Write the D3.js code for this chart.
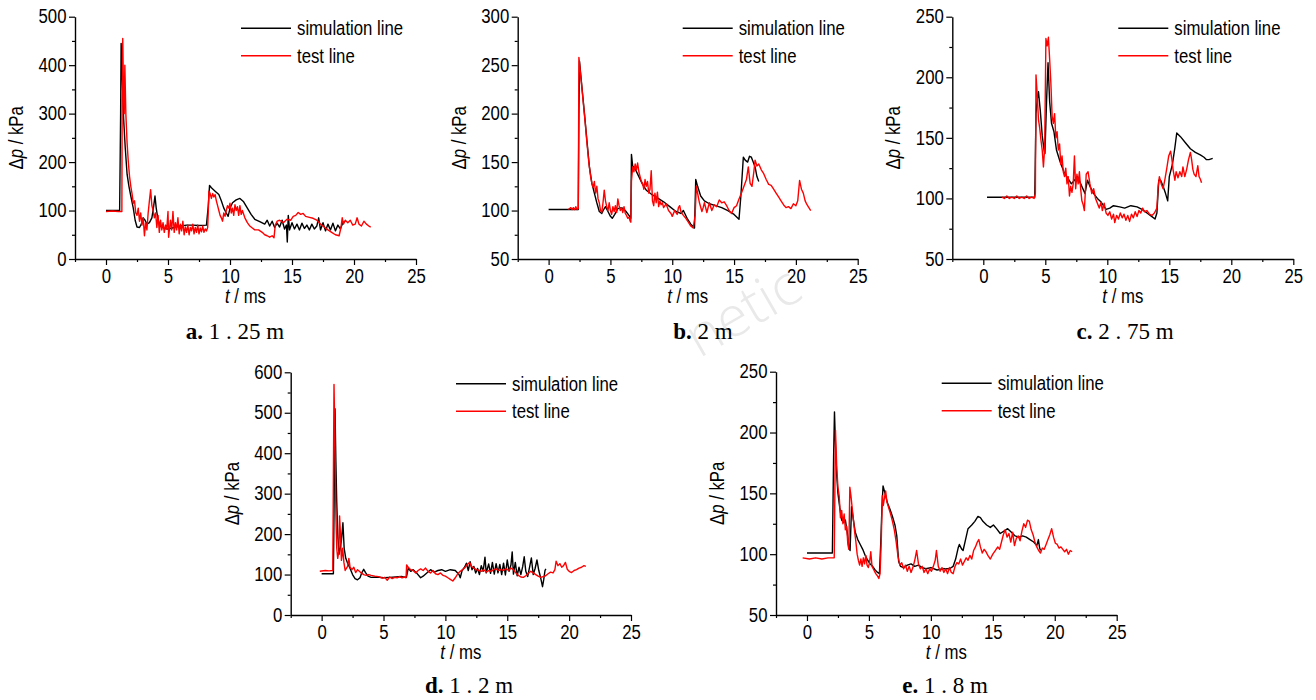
<!DOCTYPE html>
<html>
<head>
<meta charset="utf-8">
<script src="https://cdn.jsdelivr.net/npm/d3@7"></script>
<style>
body { margin: 0; background: #fff; }
text { font-family: "Liberation Sans", Arial, sans-serif; fill: #000; }
.cap { font-family: "Liberation Serif", "Times New Roman", serif; font-size: 23px; white-space: pre; }
/* the source figure uses a slightly condensed sans */
.xax .tick text { transform-box: fill-box; transform-origin: 50% 50%; transform: scaleX(0.86); }
.yax .tick text { transform-box: fill-box; transform-origin: 100% 50%; transform: scaleX(0.86); }
</style>
</head>
<body>
<script>

// shared x axis (t / ms)
var xDomain = [-2.5, 25];
var xTicks = [0, 5, 10, 15, 20, 25];
var xMinor = [-2.5, 2.5, 7.5, 12.5, 17.5, 22.5];

// y axes per panel
var yDomA = [0, 500], yTicksA = [0, 100, 200, 300, 400, 500], yMinorA = [50, 150, 250, 350, 450];
var yDomB = [50, 300], yTicksB = [50, 100, 150, 200, 250, 300], yMinorB = [75, 125, 175, 225, 275];
var yDomC = [50, 250], yTicksC = [50, 100, 150, 200, 250], yMinorC = [75, 125, 175, 225];
var yDomD = [0, 600], yTicksD = [0, 100, 200, 300, 400, 500, 600], yMinorD = [50, 150, 250, 350, 450, 550];
var yDomE = [50, 250], yTicksE = [50, 100, 150, 200, 250], yMinorE = [75, 125, 175, 225];

var legendNames = ["simulation line", "test line"];

// a. 1.25 m   [t ms, dp kPa]
var simA = [[0,100],[1.1,100],[1.18,300],[1.22,445],[1.3,380],[1.42,290],[1.55,230],[1.7,175],[1.85,150],[2.0,130],[2.2,105],[2.35,80],[2.5,66],[2.7,65],[2.85,72],[3.0,85],[3.15,80],[3.3,72],[3.5,75],[3.7,85],[3.85,110],[3.95,130],[4.05,105],[4.2,80],[4.4,68],[4.7,63],[5.0,62],[5.5,65],[6.0,68],[6.5,70],[7.0,70],[7.5,69],[8.1,70],[8.25,110],[8.35,152],[8.5,147],[8.8,140],[9.1,133],[9.3,120],[9.5,105],[9.7,95],[9.85,88],[10.0,105],[10.2,116],[10.5,122],[10.8,125],[11.1,118],[11.4,105],[11.7,92],[12.0,82],[12.4,77],[12.8,72],[13.0,80],[13.2,68],[13.4,78],[13.6,65],[13.8,74],[14.0,66],[14.2,80],[14.4,62],[14.55,70],[14.62,35],[14.7,90],[14.8,60],[15.0,75],[15.2,62],[15.4,72],[15.6,60],[15.8,74],[16.0,63],[16.2,70],[16.4,60],[16.6,72],[16.8,62],[17.0,68],[17.15,85],[17.3,60],[17.5,75],[17.7,58],[17.9,72],[18.1,60],[18.3,74],[18.5,58],[18.7,70],[18.9,62],[19.1,75],[19.3,78]];
var testA = [[0,98],[0.5,99],[1.0,98],[1.28,98],[1.3,300],[1.35,455],[1.42,330],[1.47,300],[1.52,400],[1.6,300],[1.7,240],[1.8,200],[1.9,170],[2.0,150],[2.1,135],[2.2,115],[2.3,120],[2.4,95],[2.5,90],[2.6,105],[2.7,78],[2.8,95],[2.9,70],[3.0,85],[3.1,48],[3.2,75],[3.3,60],[3.4,95],[3.5,120],[3.6,143],[3.7,110],[3.8,100],[3.9,85],[4.0,95],[4.1,65],[4.2,90],[4.3,55],[4.4,80],[4.5,60],[4.6,75],[4.7,55],[4.8,70],[4.9,62],[5.0,98],[5.05,45],[5.2,80],[5.3,60],[5.4,98],[5.5,55],[5.6,75],[5.7,60],[5.8,85],[5.9,52],[6.0,72],[6.1,58],[6.2,78],[6.3,50],[6.4,66],[6.5,55],[6.6,70],[6.7,50],[6.8,65],[6.9,58],[7.0,72],[7.1,52],[7.2,65],[7.3,55],[7.4,70],[7.5,52],[7.6,64],[7.7,56],[7.8,68],[7.9,55],[8.0,62],[8.1,58],[8.2,65],[8.25,100],[8.3,140],[8.4,135],[8.5,125],[8.6,135],[8.7,128],[8.8,133],[8.9,120],[9.0,110],[9.1,100],[9.2,90],[9.3,85],[9.4,78],[9.5,95],[9.6,88],[9.7,100],[9.8,110],[9.9,105],[10.0,115],[10.1,95],[10.2,105],[10.3,90],[10.4,112],[10.5,100],[10.6,108],[10.7,90],[10.8,110],[10.9,92],[11.0,100],[11.2,85],[11.4,75],[11.6,68],[11.8,64],[12.0,60],[12.3,60],[12.6,55],[12.8,50],[13.0,48],[13.2,45],[13.4,48],[13.55,44],[13.65,70],[13.8,78],[14.0,80],[14.3,75],[14.6,82],[14.9,80],[15.1,88],[15.3,90],[15.5,96],[15.7,92],[15.9,94],[16.1,88],[16.4,86],[16.7,84],[17.0,80],[17.3,72],[17.6,66],[17.9,60],[18.2,55],[18.5,50],[18.8,48],[18.95,65],[19.05,85],[19.15,72],[19.3,80],[19.5,75],[19.7,80],[19.9,70],[20.1,72],[20.25,85],[20.4,72],[20.6,68],[20.8,78],[21.0,72],[21.2,68],[21.35,66]];

// b. 2 m
var simB = [[0,101],[2.4,101],[2.45,200],[2.5,254],[2.6,240],[2.75,220],[2.9,200],[3.1,172],[3.3,145],[3.5,128],[3.7,118],[3.9,108],[4.1,99],[4.3,97],[4.45,101],[4.6,104],[4.8,99],[5.0,94],[5.15,92],[5.35,96],[5.6,102],[5.9,103],[6.2,100],[6.5,95],[6.65,92],[6.7,158],[6.8,146],[7.0,143],[7.3,135],[7.6,127],[7.9,121],[8.3,117],[8.8,113],[9.3,109],[9.8,104],[10.3,99],[10.7,97],[10.9,100],[11.2,92],[11.5,86],[11.8,82],[11.9,132],[12.05,125],[12.3,115],[12.6,110],[13.0,107],[13.5,105],[14.0,103],[14.5,100],[15.0,96],[15.4,91],[15.55,115],[15.75,155],[15.9,152],[16.1,150],[16.25,156],[16.4,155],[16.55,150],[16.7,145],[16.85,135],[17.0,130]];
var testB = [[1.6,101],[1.8,103],[1.9,101],[2.0,103],[2.1,101],[2.2,104],[2.3,101],[2.4,102],[2.45,258],[2.55,245],[2.65,232],[2.8,212],[2.95,192],[3.1,170],[3.25,150],[3.4,135],[3.5,128],[3.6,124],[3.7,130],[3.8,118],[3.9,125],[4.0,112],[4.1,108],[4.2,100],[4.3,98],[4.4,108],[4.5,121],[4.6,110],[4.7,104],[4.8,100],[4.9,108],[5.0,100],[5.1,96],[5.2,104],[5.3,99],[5.4,105],[5.5,98],[5.6,112],[5.7,105],[5.8,100],[5.9,103],[6.0,98],[6.1,104],[6.2,97],[6.3,95],[6.4,92],[6.5,93],[6.6,89],[6.65,88],[6.7,130],[6.8,145],[6.9,140],[7.0,148],[7.1,142],[7.2,149],[7.3,140],[7.4,135],[7.5,130],[7.6,128],[7.7,122],[7.8,132],[7.9,125],[8.0,130],[8.1,118],[8.2,122],[8.3,141],[8.4,110],[8.5,105],[8.6,118],[8.7,108],[8.8,119],[8.9,104],[9.0,110],[9.1,106],[9.2,108],[9.3,103],[9.5,107],[9.7,100],[9.9,97],[10.0,94],[10.2,100],[10.4,96],[10.5,103],[10.6,105],[10.7,99],[10.9,95],[11.1,92],[11.3,88],[11.5,84],[11.7,82],[11.85,95],[11.95,125],[12.05,118],[12.2,108],[12.4,99],[12.5,103],[12.6,108],[12.8,98],[13.0,108],[13.2,100],[13.4,106],[13.6,104],[13.8,111],[14.0,108],[14.2,109],[14.4,105],[14.6,100],[14.8,97],[15.0,103],[15.2,105],[15.4,112],[15.6,118],[15.8,125],[16.0,132],[16.15,145],[16.3,128],[16.45,125],[16.6,140],[16.7,152],[16.85,146],[17.0,148],[17.2,142],[17.4,138],[17.6,132],[17.8,127],[18.0,126],[18.2,122],[18.4,118],[18.6,114],[18.8,110],[19.0,106],[19.2,103],[19.4,104],[19.6,102],[19.8,107],[20.0,105],[20.15,110],[20.3,131],[20.45,122],[20.6,118],[20.75,110],[20.9,106],[21.05,103],[21.2,100]];

// c. 2.75 m
var simC = [[0.3,101],[4.15,101],[4.25,170],[4.35,182],[4.45,188],[4.6,172],[4.75,152],[4.9,140],[4.97,137],[5.1,180],[5.22,212],[5.35,180],[5.5,162],[5.7,155],[5.9,140],[6.2,130],[6.5,122],[6.8,117],[7.1,112],[7.35,115],[7.6,118],[7.9,111],[8.2,104],[8.4,115],[8.6,110],[8.9,104],[9.2,100],[9.5,97],[9.9,91],[10.2,92],[10.5,94],[11.0,93],[11.4,92],[11.9,94],[12.4,93],[12.8,91],[13.2,88],[13.6,85],[13.85,83],[14.0,88],[14.15,115],[14.3,115],[14.5,110],[14.7,104],[14.87,98],[15.0,118],[15.25,128],[15.45,142],[15.6,154],[15.9,151],[16.3,146],[16.7,141],[17.1,138],[17.5,136],[17.8,134],[18.0,132],[18.2,132],[18.5,133]];
var testC = [[1.5,101],[1.7,100],[1.9,102],[2.1,100],[2.3,101],[2.5,100],[2.7,102],[2.9,100],[3.1,101],[3.3,100],[3.5,102],[3.7,100],[3.9,101],[4.1,100],[4.2,104],[4.25,202],[4.35,185],[4.45,165],[4.55,158],[4.65,148],[4.75,140],[4.85,126],[4.95,142],[5.05,232],[5.15,226],[5.25,233],[5.35,215],[5.45,195],[5.55,168],[5.65,162],[5.75,170],[5.85,150],[5.95,155],[6.05,140],[6.15,145],[6.25,128],[6.35,135],[6.45,122],[6.55,118],[6.65,125],[6.75,112],[6.85,118],[6.95,102],[7.05,110],[7.15,105],[7.25,112],[7.35,135],[7.45,108],[7.55,120],[7.65,112],[7.75,122],[7.85,108],[7.95,98],[8.05,95],[8.15,90],[8.3,120],[8.45,122],[8.6,112],[8.75,104],[8.9,108],[9.05,100],[9.2,96],[9.35,92],[9.5,97],[9.6,90],[9.75,96],[9.9,88],[10.05,86],[10.2,89],[10.35,83],[10.5,87],[10.6,80],[10.75,86],[10.9,83],[11.05,88],[11.2,84],[11.35,87],[11.5,82],[11.65,86],[11.8,81],[11.95,87],[12.1,84],[12.25,89],[12.4,85],[12.55,90],[12.7,88],[12.85,92],[13.0,89],[13.2,90],[13.4,87],[13.6,86],[13.8,88],[14.0,92],[14.1,110],[14.2,118],[14.35,112],[14.5,108],[14.65,116],[14.8,125],[14.95,135],[15.1,139],[15.2,133],[15.3,124],[15.45,115],[15.55,122],[15.7,117],[15.85,122],[16.0,118],[16.1,126],[16.25,118],[16.4,124],[16.55,132],[16.7,138],[16.8,132],[16.9,124],[17.0,120],[17.15,118],[17.3,127],[17.4,118],[17.5,116],[17.6,113]];

// d. 1.2 m
var simD = [[0,102],[0.95,102],[1.0,250],[1.08,510],[1.15,380],[1.22,280],[1.3,200],[1.4,150],[1.5,165],[1.6,185],[1.72,228],[1.82,165],[1.95,140],[2.1,128],[2.3,115],[2.5,100],[2.7,90],[2.9,87],[3.1,92],[3.25,105],[3.4,113],[3.55,105],[3.75,96],[4.0,93],[4.5,94],[5.0,92],[5.5,93],[6.0,94],[6.5,95],[6.85,93],[7.0,116],[7.2,108],[7.4,112],[7.7,103],[8.0,92],[8.2,96],[8.5,104],[8.8,112],[9.1,106],[9.4,110],[9.7,112],[10.0,108],[10.4,112],[10.8,110],[11.1,100],[11.2,92],[11.35,110],[11.55,118],[11.7,128],[11.85,110],[12.0,132],[12.15,112],[12.3,120],[12.45,104],[12.6,115],[12.75,100],[12.9,122],[13.05,108],[13.2,143],[13.3,104],[13.5,126],[13.65,103],[13.8,130],[13.95,101],[14.1,127],[14.25,104],[14.4,125],[14.55,100],[14.7,128],[14.85,99],[15.0,136],[15.15,108],[15.3,124],[15.4,156],[15.5,101],[15.65,130],[15.8,97],[15.95,118],[16.1,100],[16.25,120],[16.37,144],[16.5,108],[16.65,95],[16.8,118],[16.95,141],[17.1,100],[17.25,115],[17.4,136],[17.55,110],[17.7,92],[17.85,70],[17.95,88],[18.05,110],[18.12,114]];
var testD = [[-0.15,108],[0.3,110],[0.6,109],[0.9,110],[0.95,340],[1.0,570],[1.08,420],[1.15,250],[1.22,165],[1.3,140],[1.4,160],[1.45,245],[1.52,200],[1.6,135],[1.7,165],[1.8,130],[1.9,110],[2.0,115],[2.1,120],[2.2,140],[2.3,118],[2.45,112],[2.6,118],[2.75,105],[2.9,112],[3.05,108],[3.2,104],[3.4,100],[3.6,98],[3.8,100],[4.0,98],[4.3,96],[4.6,95],[4.9,91],[5.1,93],[5.3,86],[5.5,94],[5.7,90],[5.9,93],[6.1,92],[6.3,95],[6.5,92],[6.7,94],[6.82,92],[6.87,124],[7.0,118],[7.2,112],[7.4,110],[7.6,104],[7.8,110],[8.0,114],[8.2,110],[8.4,116],[8.6,108],[8.8,104],[9.0,110],[9.2,102],[9.4,100],[9.6,104],[9.8,98],[10.0,96],[10.2,92],[10.4,88],[10.6,84],[10.8,92],[11.0,102],[11.2,108],[11.4,112],[11.6,118],[11.8,126],[11.95,130],[12.1,120],[12.3,116],[12.5,112],[12.7,110],[12.9,108],[13.1,112],[13.3,106],[13.5,110],[13.7,108],[13.9,112],[14.1,114],[14.3,110],[14.5,113],[14.7,110],[14.9,115],[15.1,110],[15.3,116],[15.5,112],[15.7,104],[15.9,98],[16.1,94],[16.3,93],[16.5,97],[16.7,103],[16.9,108],[17.1,104],[17.3,100],[17.5,96],[17.7,93],[17.9,95],[18.1,97],[18.3,102],[18.5,106],[18.7,104],[18.85,112],[18.95,133],[19.1,122],[19.25,127],[19.4,118],[19.55,122],[19.7,130],[19.85,113],[20.0,108],[20.2,105],[20.4,110],[20.6,112],[20.8,116],[21.0,118],[21.2,122],[21.35,120]];

// e. 1.8 m
var simE = [[0,101],[2.05,101],[2.15,180],[2.22,217],[2.3,190],[2.4,165],[2.5,150],[2.65,138],[2.8,128],[2.95,126],[3.1,128],[3.25,118],[3.4,105],[3.48,103],[3.6,139],[3.75,128],[3.9,118],[4.1,112],[4.3,108],[4.5,104],[4.7,99],[4.9,95],[5.1,92],[5.3,90],[5.5,87],[5.7,85],[5.85,84],[5.95,108],[6.05,138],[6.14,156],[6.3,150],[6.5,142],[6.7,137],[6.9,131],[7.1,124],[7.25,115],[7.4,94],[7.55,90],[7.8,89],[8.1,91],[8.4,92],[8.7,90],[9.0,91],[9.3,89],[9.6,88],[10.0,89],[10.5,87],[11.0,88],[11.5,88],[11.8,90],[12.0,96],[12.2,105],[12.3,108],[12.5,104],[12.6,103],[12.8,112],[13.0,121],[13.3,124],[13.55,127],[13.8,131],[14.0,130],[14.2,127],[14.5,124],[14.8,122],[15.05,124],[15.3,121],[15.6,117],[15.9,119],[16.2,121],[16.5,118],[16.8,115],[17.1,114],[17.4,115],[17.7,114],[18.0,112],[18.3,110],[18.55,107],[18.68,112],[18.78,105],[18.85,103]];
var testE = [[-0.35,97],[0.2,96],[0.7,97],[1.2,96],[1.7,97],[2.2,97],[2.25,150],[2.3,202],[2.4,172],[2.5,155],[2.6,148],[2.7,130],[2.8,136],[2.9,125],[3.0,133],[3.1,120],[3.2,123],[3.3,108],[3.38,104],[3.46,155],[3.55,148],[3.65,138],[3.75,128],[3.85,118],[3.95,110],[4.05,100],[4.15,95],[4.25,91],[4.35,96],[4.45,90],[4.55,97],[4.65,92],[4.75,99],[4.85,91],[4.95,89],[5.05,93],[5.15,102],[5.25,90],[5.4,87],[5.55,84],[5.7,82],[5.8,80],[5.9,84],[6.0,112],[6.08,148],[6.16,140],[6.25,146],[6.35,152],[6.45,143],[6.6,138],[6.75,133],[6.9,127],[7.05,120],[7.2,110],[7.35,98],[7.5,91],[7.65,93],[7.8,88],[7.95,91],[8.1,86],[8.25,90],[8.4,85],[8.55,89],[8.7,95],[8.85,103],[9.0,92],[9.15,88],[9.3,90],[9.45,85],[9.6,88],[9.75,84],[9.9,88],[10.05,86],[10.2,90],[10.35,95],[10.45,103],[10.6,90],[10.75,86],[10.9,89],[11.05,85],[11.2,88],[11.35,84],[11.5,89],[11.65,85],[11.8,84],[11.95,90],[12.1,93],[12.25,92],[12.4,96],[12.55,91],[12.7,94],[12.85,97],[13.0,95],[13.15,99],[13.3,96],[13.45,103],[13.6,106],[13.75,110],[13.87,112],[14.0,106],[14.15,101],[14.3,104],[14.45,102],[14.6,99],[14.8,96],[15.0,100],[15.2,103],[15.4,106],[15.55,104],[15.7,110],[15.85,116],[16.0,120],[16.15,114],[16.3,117],[16.45,110],[16.6,118],[16.75,107],[16.9,113],[17.05,115],[17.2,111],[17.35,119],[17.5,125],[17.65,122],[17.8,128],[17.95,127],[18.1,120],[18.25,116],[18.4,110],[18.55,106],[18.7,103],[18.85,101],[19.0,105],[19.15,104],[19.3,108],[19.45,112],[19.6,116],[19.75,121],[19.9,114],[20.05,109],[20.2,108],[20.35,105],[20.5,106],[20.65,104],[20.8,102],[20.95,104],[21.1,100],[21.25,103],[21.4,102]];

var W = 1316, H = 700;
var svg = d3.select("body").append("svg").attr("width", W).attr("height", H);

// faint watermark behind everything
svg.append("text")
    .attr("transform", "translate(752,328) rotate(-30)")
    .attr("text-anchor", "middle")
    .style("font-family", "'Open Sans', sans-serif")
    .style("font-weight", 300)
    .style("font-size", "56px")
    .style("fill", "#e9e9e9")
    .text("netic");

// panel frames (pixel layout only)
var panels = [
    {sim: simA, test: testA, dom: yDomA, ticks: yTicksA, minor: yMinorA, left: 75, right: 416, top: 16.7, bottom: 259, letter: "a.", label: " 1 . 25 m", capX: 235, capY: 339},
    {sim: simB, test: testB, dom: yDomB, ticks: yTicksB, minor: yMinorB, left: 517.7, right: 857.7, top: 16.7, bottom: 259, letter: "b.", label: " 2 m", capX: 703, capY: 339},
    {sim: simC, test: testC, dom: yDomC, ticks: yTicksC, minor: yMinorC, left: 952.3, right: 1293.3, top: 16.7, bottom: 259, letter: "c.", label: " 2 . 75 m", capX: 1125, capY: 339},
    {sim: simD, test: testD, dom: yDomD, ticks: yTicksD, minor: yMinorD, left: 290.7, right: 631, top: 372.3, bottom: 615, letter: "d.", label: " 1 . 2 m", capX: 469, capY: 693},
    {sim: simE, test: testE, dom: yDomE, ticks: yTicksE, minor: yMinorE, left: 776, right: 1116.7, top: 371.7, bottom: 615, letter: "e.", label: " 1 . 8 m", capX: 945, capY: 693}
];

var FONT = "19.5px";
var SQUEEZE = "scale(0.86,1)";

var styleAxis = function(sel) {
    sel.attr("font-size", null).attr("font-family", null);
    sel.selectAll("text").style("font-size", FONT).style("fill", "#000");
    sel.selectAll("line").attr("stroke", "#000").attr("stroke-width", 1.2);
    sel.select(".domain").attr("stroke", "#000").attr("stroke-width", 1.4);
};

var drawPanel = function(p) {
    var x = d3.scaleLinear().domain(xDomain).range([p.left, p.right]);
    var y = d3.scaleLinear().domain(p.dom).range([p.bottom, p.top]);
    var g = svg.append("g");

    // minor ticks
    g.append("g").attr("transform", "translate(0," + p.bottom + ")")
        .call(d3.axisBottom(x).tickValues(xMinor).tickSize(3).tickFormat(""))
        .call(function(a) { a.select(".domain").remove(); a.selectAll("line").attr("stroke", "#000").attr("stroke-width", 1.2); });
    g.append("g").attr("transform", "translate(" + p.left + ",0)")
        .call(d3.axisLeft(y).tickValues(p.minor).tickSize(3).tickFormat(""))
        .call(function(a) { a.select(".domain").remove(); a.selectAll("line").attr("stroke", "#000").attr("stroke-width", 1.2); });

    // major axes
    g.append("g").attr("class", "xax").attr("transform", "translate(0," + p.bottom + ")")
        .call(d3.axisBottom(x).tickValues(xTicks).tickSize(6).tickSizeOuter(0).tickPadding(4))
        .call(styleAxis);
    g.append("g").attr("class", "yax").attr("transform", "translate(" + p.left + ",0)")
        .call(d3.axisLeft(y).tickValues(p.ticks).tickSize(6).tickSizeOuter(0).tickPadding(2.5))
        .call(styleAxis);

    // axis titles
    var xt = g.append("text")
        .attr("transform", "translate(" + ((p.left + p.right) / 2) + "," + (p.bottom + 44) + ") " + SQUEEZE)
        .attr("text-anchor", "middle").style("font-size", FONT);
    xt.append("tspan").style("font-style", "italic").text("t");
    xt.append("tspan").text(" / ms");

    var yt = g.append("text")
        .attr("transform", "translate(" + (p.left - 52) + "," + ((p.top + p.bottom) / 2) + ") rotate(-90) " + SQUEEZE)
        .attr("text-anchor", "middle").style("font-size", FONT);
    yt.append("tspan").text("\u0394");
    yt.append("tspan").style("font-style", "italic").text("p");
    yt.append("tspan").text(" / kPa");

    // curves
    var line = d3.line().x(function(d) { return x(d[0]); }).y(function(d) { return y(d[1]); });
    g.append("path").datum(p.sim).attr("d", line)
        .attr("fill", "none").attr("stroke", "#000").attr("stroke-width", 1.4).attr("stroke-linejoin", "round");
    g.append("path").datum(p.test).attr("d", line)
        .attr("fill", "none").attr("stroke", "#f00").attr("stroke-width", 1.4).attr("stroke-linejoin", "round");

    // legend
    var colors = ["#000", "#f00"];
    legendNames.forEach(function(name, i) {
        var ly = p.top + 11.5 + i * 27.5;
        g.append("line")
            .attr("x1", p.right - 175).attr("x2", p.right - 125)
            .attr("y1", ly).attr("y2", ly)
            .attr("stroke", colors[i]).attr("stroke-width", 1.4);
        g.append("text")
            .attr("transform", "translate(" + (p.right - 119) + "," + (ly + 7) + ") " + SQUEEZE)
            .style("font-size", FONT).text(name);
    });

    // caption
    var cap = g.append("text").attr("class", "cap")
        .attr("x", p.capX).attr("y", p.capY).attr("text-anchor", "middle");
    cap.append("tspan").style("font-weight", "bold").text(p.letter);
    cap.append("tspan").text(p.label);
};

panels.forEach(drawPanel);

</script>
</body>
</html>
